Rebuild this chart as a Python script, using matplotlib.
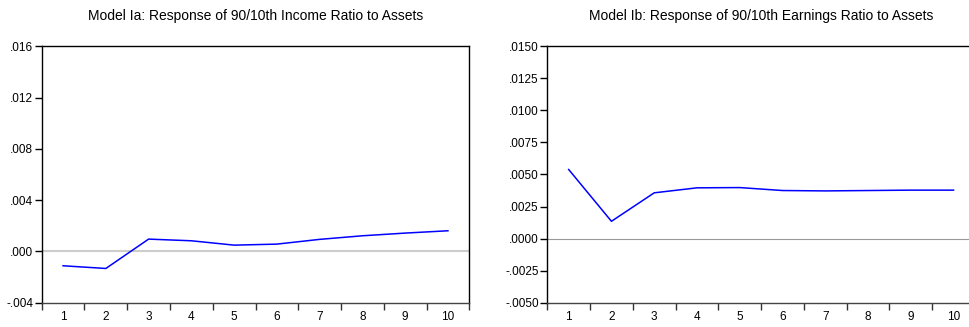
import numpy as np
import matplotlib
matplotlib.use('Agg')
import matplotlib.pyplot as plt
from matplotlib.ticker import FixedLocator, NullFormatter

plt.rcParams['font.family'] = ['Liberation Sans', 'DejaVu Sans']

# ── Impulse responses (periods 1..10) ───────────────────────────────────────
periods = np.arange(1, 11)
income_resp = [-0.00112, -0.00133, 0.00096, 0.00083, 0.00049,
               0.00057, 0.00094, 0.00122, 0.00143, 0.00161]
earnings_resp = [0.00539, 0.00135, 0.00357, 0.00396, 0.00398,
                 0.00375, 0.00372, 0.00375, 0.00378, 0.00378]

title_a = 'Model Ia: Response of 90/10th Income Ratio to Assets'
title_b = 'Model Ib: Response of 90/10th Earnings Ratio to Assets'

yticks_a = [-0.004, 0.000, 0.004, 0.008, 0.012, 0.016]
ylabels_a = ['-.004', '.000', '.004', '.008', '.012', '.016']
yticks_b = [-0.0050, -0.0025, 0.0000, 0.0025, 0.0050, 0.0075,
            0.0100, 0.0125, 0.0150]
ylabels_b = ['-.0050', '-.0025', '.0000', '.0025', '.0050', '.0075',
             '.0100', '.0125', '.0150']

W, H = 969, 327
fig = plt.figure(figsize=(W / 100, H / 100), dpi=100)


def panel(rect, y, title, yticks, ylabels, zero_color, zero_lw):
    ax = fig.add_axes(rect)
    ax.axhline(0, color=zero_color, lw=zero_lw, zorder=1)
    ax.plot(periods, y, color='#0000ff', lw=1.1, zorder=2)
    ax.set_xlim(0.5, 10.5)
    ax.set_ylim(yticks[0], yticks[-1])
    ax.set_yticks(yticks)
    ax.set_yticklabels(ylabels)
    # EViews style: ticks between periods, labels centred on each period
    ax.xaxis.set_major_locator(FixedLocator(np.arange(0.5, 11.0, 1.0)))
    ax.xaxis.set_major_formatter(NullFormatter())
    ax.xaxis.set_minor_locator(FixedLocator(periods))
    ax.set_xticklabels([str(p) for p in periods], minor=True)
    ax.tick_params(axis='x', which='major', direction='out', length=5,
                   width=1, color='#333333')
    ax.tick_params(axis='x', which='minor', length=0, pad=6, labelsize=8.5)
    ax.tick_params(axis='y', direction='out', length=5, width=1,
                   pad=1, labelsize=8.5)
    for s in ax.spines.values():
        s.set_linewidth(1.0)
    ax.spines['bottom'].set_color('#444444')
    ax.set_title(title, fontsize=10, pad=19)
    return ax


left_w = 427.6 / W
ax_h = 256.4 / H
ax_b = (H - 302.7) / H
panel([41.7 / W, ax_b, left_w, ax_h], income_resp, title_a,
      yticks_a, ylabels_a, '#cccccc', 1.5)
panel([547.3 / W, ax_b, left_w, ax_h], earnings_resp, title_b,
      yticks_b, ylabels_b, '#999999', 0.8)

fig.savefig('out.png', dpi=100)
